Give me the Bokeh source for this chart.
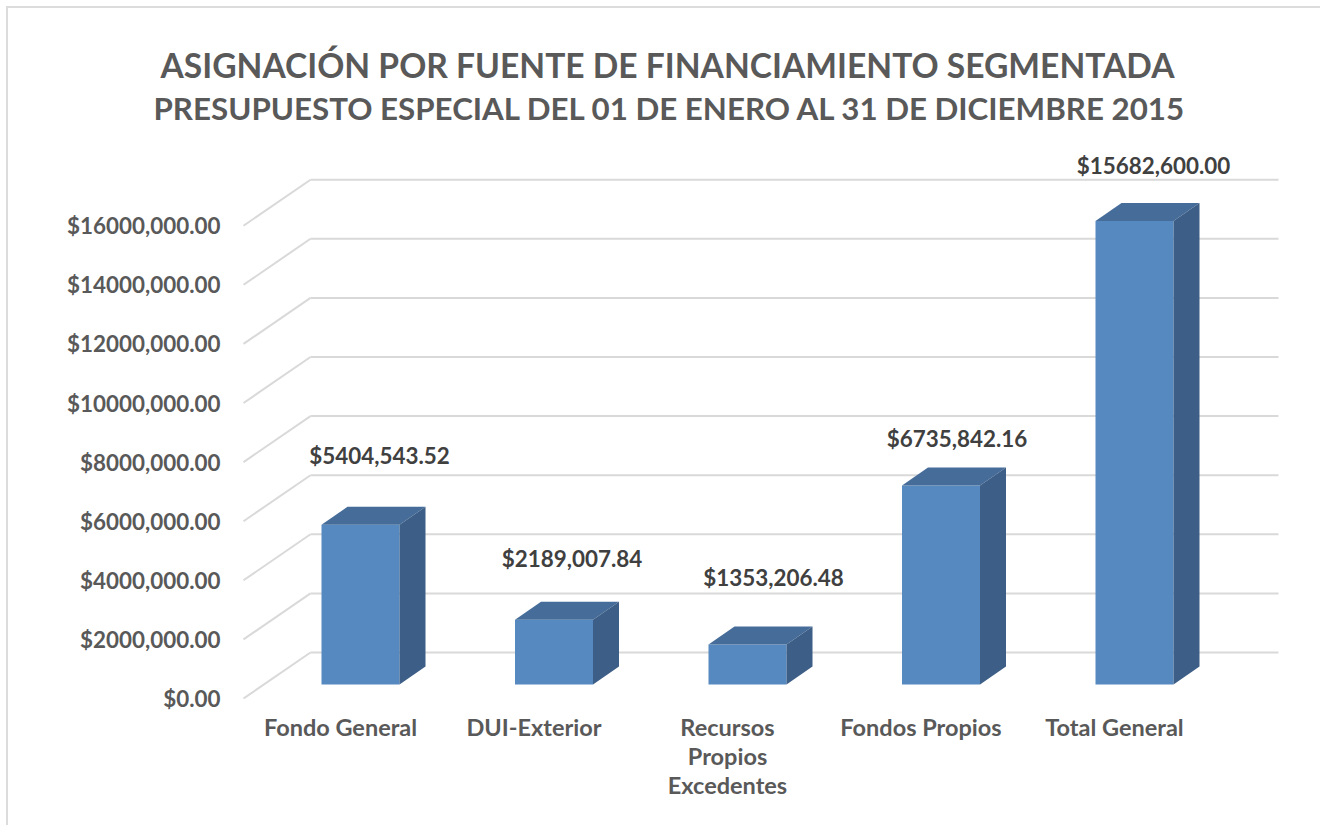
from bokeh.plotting import figure
from bokeh.models import ColumnDataSource, FixedTicker, LinearAxis, Title, Range1d
from bokeh.embed import file_html
from bokeh.resources import INLINE
from bokeh.core.properties import value

title_main = "ASIGNACIÓN POR FUENTE DE FINANCIAMIENTO SEGMENTADA"
title_sub = "PRESUPUESTO ESPECIAL DEL 01 DE ENERO AL 31 DE DICIEMBRE 2015"
categories = ["Fondo General", "DUI-Exterior", "Recursos\nPropios\nExcedentes", "Fondos Propios", "Total General"]
amounts = [5404543.52, 2189007.84, 1353206.48, 6735842.16, 15682600.00]
amount_labels = ["$5404,543.52", "$2189,007.84", "$1353,206.48", "$6735,842.16", "$15682,600.00"]
y_ticks = [0, 2000000, 4000000, 6000000, 8000000, 10000000, 12000000, 14000000, 16000000]
y_tick_labels = ["$0.00", "$2000,000.00", "$4000,000.00", "$6000,000.00", "$8000,000.00",
                 "$10000,000.00", "$12000,000.00", "$14000,000.00", "$16000,000.00"]

FONT = "Lato"
W, H = 1320, 825
FRAME_L, FRAME_R, FRAME_T, FRAME_B = 232, 1310, 128, 702   # page px
ZERO_X, ZERO_Y = 340, 698                                  # page px of first category, value 0
PX_CAT, PX_VAL = 193.5, 59.1 / 2000000

def dx(px): return px / PX_CAT
def dv(px): return px / PX_VAL

x_range = Range1d(dx(FRAME_L - ZERO_X), dx(FRAME_R - ZERO_X))
y_range = Range1d(dv(ZERO_Y - FRAME_B), dv(ZERO_Y - FRAME_T))

p = figure(width=W, height=H, x_range=x_range, y_range=y_range, output_backend="svg",
           toolbar_location=None, x_axis_type=None, y_axis_type=None,
           min_border_left=FRAME_L, min_border_right=W - FRAME_R,
           min_border_top=FRAME_T, min_border_bottom=H - FRAME_B,
           outline_line_color=None, background_fill_color="white", border_fill_color=None)
p.grid.visible = False

# chart-area border: only its left and top edges show in the reference
p.styles = {"background-color": "white",
            "box-shadow": "inset 6px 6px 0 0 white, inset 8px 8px 0 0 #dcdcdc"}

# titles
for text, size, off, st in [(title_sub, "31.3px", 153 - FRAME_L, 3), (title_main, "33.6px", 160 - FRAME_L, 2)]:
    p.add_layout(Title(text=text, text_font=FONT, text_font_size=size, text_font_style="bold",
                       text_color="#595959", align="left", offset=off, standoff=st), "above")

# axes
ax_y = LinearAxis(ticker=FixedTicker(ticks=y_ticks), axis_line_color=None,
                  major_tick_line_color=None, minor_tick_line_color=None,
                  major_label_standoff=6, major_label_text_font=FONT,
                  major_label_text_font_size="22.4px", major_label_text_font_style="bold",
                  major_label_text_color="#595959",
                  major_label_overrides=dict(zip(y_ticks, y_tick_labels)))
p.add_layout(ax_y, "left")
ax_x = LinearAxis(ticker=FixedTicker(ticks=list(range(len(categories)))), axis_line_color=None,
                  major_tick_line_color=None, minor_tick_line_color=None,
                  major_label_standoff=4, major_label_text_font=FONT,
                  major_label_text_font_size="23.5px", major_label_text_font_style="bold",
                  major_label_text_color="#595959", major_label_text_line_height=1.04,
                  major_label_overrides=dict(enumerate(categories)))
p.add_layout(ax_x, "below")

# floor geometry (px): wall depth, bar placement and bar size
WALL_X, WALL_Y = 67, 46
BAR_X, BAR_Y = 20, 14
BAR_W, DEPTH_X, DEPTH_Y = 78, 26, 18
GRID = "#d9d9d9"
plane_left = dx(243 - ZERO_X)
wall_left = plane_left + dx(WALL_X)
wall_right = dx(1278 - ZERO_X)

p.segment(x0=[plane_left] * len(y_ticks), y0=y_ticks,
          x1=[wall_left] * len(y_ticks), y1=[t + dv(WALL_Y) for t in y_ticks],
          line_color=GRID, line_width=2)
p.segment(x0=[wall_left] * len(y_ticks), y0=[t + dv(WALL_Y) for t in y_ticks],
          x1=[wall_right] * len(y_ticks), y1=[t + dv(WALL_Y) for t in y_ticks],
          line_color=GRID, line_width=2)

# bars
n = range(len(amounts))
bx = [i + dx(BAR_X) for i in n]
base = dv(BAR_Y)
half = dx(BAR_W) / 2
p.vbar(x=bx, width=dx(BAR_W), bottom=[base] * len(amounts), top=[base + a for a in amounts],
       fill_color="#5689c0", line_color=None)
p.patches(xs=[[x - half, x + half, x + half + dx(DEPTH_X), x - half + dx(DEPTH_X)] for x in bx],
          ys=[[base + a, base + a, base + a + dv(DEPTH_Y), base + a + dv(DEPTH_Y)] for a in amounts],
          fill_color="#466d9a", line_color=None)
p.patches(xs=[[x + half, x + half + dx(DEPTH_X), x + half + dx(DEPTH_X), x + half] for x in bx],
          ys=[[base, base + dv(DEPTH_Y), base + a + dv(DEPTH_Y), base + a] for a in amounts],
          fill_color="#3d5e86", line_color=None)

# value labels
label_dx = [19, 18, 26, 16, 19]
label_dy = [-69, -61, -67, -47, -56]
src = ColumnDataSource(dict(x=bx, y=[base + a for a in amounts], t=amount_labels,
                            xo=label_dx, yo=label_dy))
p.text(x="x", y="y", text="t", x_offset="xo", y_offset="yo", source=src, text_align="center",
       text_baseline="middle", text_font=value(FONT), text_font_size="22.4px",
       text_font_style="bold", text_color="#404040")

open("out.html", "w").write(file_html(p, INLINE))
